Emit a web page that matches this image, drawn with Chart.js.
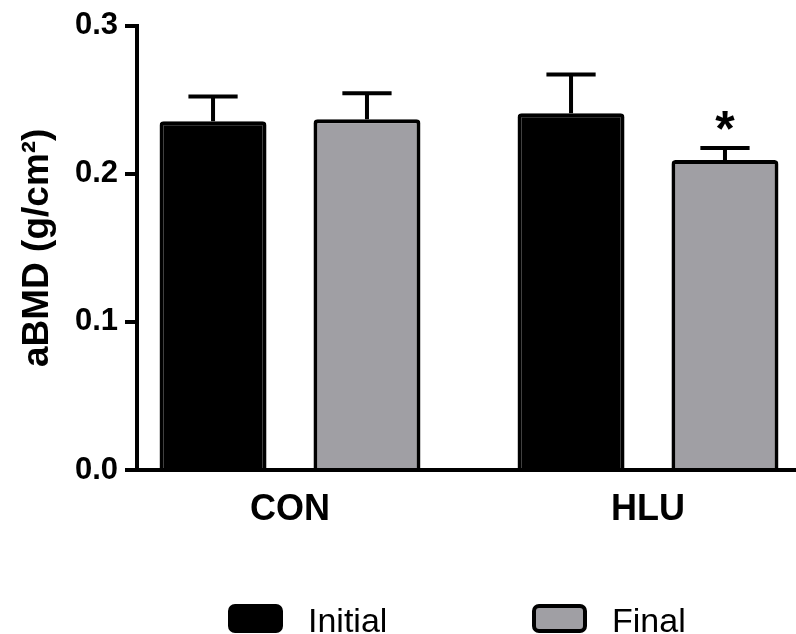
<!DOCTYPE html>
<html>
<head>
<meta charset="utf-8">
<script src="https://cdn.jsdelivr.net/npm/chart.js@4/dist/chart.umd.min.js"></script>
<style>
  body { margin: 0; background: #fff; }
  #wrap { width: 796px; height: 634px; position: relative; }
</style>
</head>
<body>
<div id="wrap"><canvas id="bmd-chart"></canvas></div>
<script>
// group labels and series values
const categories = ['CON', 'HLU'];
const seriesNames = ['Initial', 'Final'];
const initialMeans = [0.2354, 0.2408];
const initialErrors = [0.0168, 0.0262];
const finalMeans = [0.2368, 0.2092];
const finalErrors = [0.0175, 0.0081];
const finalMarks = ['', '*'];

const FONT = '"Liberation Sans", Arial, Helvetica, sans-serif';
const GREY = '#a09fa4';

// SEM whiskers + significance stars on top of each bar
const errorBars = {
    id: 'errorBars',
    afterDatasetsDraw(chart) {
        const { ctx, scales: { y } } = chart;
        ctx.save();
        ctx.strokeStyle = '#000';
        ctx.fillStyle = '#000';
        ctx.lineWidth = 4;
        chart.data.datasets.forEach((ds, di) => {
            chart.getDatasetMeta(di).data.forEach((bar, i) => {
                const top = y.getPixelForValue(ds.means[i] + ds.errors[i]);
                const half = bar.width * 0.23;
                ctx.beginPath();
                ctx.moveTo(bar.x, bar.y);
                ctx.lineTo(bar.x, top);
                ctx.moveTo(bar.x - half, top);
                ctx.lineTo(bar.x + half, top);
                ctx.stroke();
                if (ds.marks && ds.marks[i]) {
                    ctx.font = 'bold 50px ' + FONT;
                    ctx.textAlign = 'center';
                    ctx.textBaseline = 'alphabetic';
                    ctx.fillText(ds.marks[i], bar.x, top - 2);
                }
            });
        });
        ctx.restore();
    }
};

// legend along the bottom, spaced like the original figure
const bottomLegend = {
    id: 'bottomLegend',
    afterDraw(chart) {
        const { ctx } = chart;
        const slots = [228, 532];
        ctx.save();
        ctx.font = '34px ' + FONT;
        ctx.textBaseline = 'alphabetic';
        ctx.textAlign = 'left';
        chart.data.datasets.forEach((ds, i) => {
            const x = slots[i];
            ctx.beginPath();
            ctx.roundRect(x + 2, 606, 51, 25, 5);
            ctx.fillStyle = ds.backgroundColor;
            ctx.fill();
            ctx.lineWidth = 4;
            ctx.strokeStyle = '#000';
            ctx.stroke();
            ctx.fillStyle = '#000';
            ctx.fillText(ds.label, x + 80, 632);
        });
        ctx.restore();
    }
};

const toPoints = vals => vals.map((v, i) => ({ x: i + 1, y: v }));

const ctx = document.getElementById('bmd-chart').getContext('2d');
new Chart(ctx, {
    type: 'bar',
    data: {
        datasets: [
            {
                label: seriesNames[0],
                data: toPoints(initialMeans),
                means: initialMeans,
                errors: initialErrors,
                backgroundColor: '#000',
                borderColor: '#000',
                borderWidth: 4,
                borderRadius: 4,
                categoryPercentage: 0.86,
                barPercentage: 0.695,
            },
            {
                label: seriesNames[1],
                data: toPoints(finalMeans),
                means: finalMeans,
                errors: finalErrors,
                marks: finalMarks,
                backgroundColor: GREY,
                borderColor: '#000',
                borderWidth: 4,
                borderRadius: 4,
                categoryPercentage: 0.86,
                barPercentage: 0.695,
            },
        ],
    },
    options: {
        responsive: true,
        maintainAspectRatio: false,
        animation: false,
        layout: { padding: { top: 24, left: 0, right: 0, bottom: 0 } },
        plugins: {
            legend: { display: false },
            tooltip: { enabled: false },
        },
        scales: {
            x: {
                // linear index axis so the groups can sit where the original put them
                type: 'linear',
                offset: false,
                min: 0.5726,
                max: 2.4134,
                afterFit: s => { s.height = 164; },
                grid: { display: false, drawTicks: false, offset: false },
                border: { display: true, color: '#000', width: 4 },
                ticks: {
                    stepSize: 1,
                    includeBounds: false,
                    padding: 18,
                    color: '#000',
                    font: { family: FONT, size: 36, weight: 'bold' },
                    callback: v => categories[v - 1] ?? '',
                },
            },
            y: {
                min: 0,
                max: 0.3,
                afterFit: s => { s.width = 137; },
                grid: {
                    drawOnChartArea: false,
                    drawTicks: true,
                    tickLength: 12,
                    lineWidth: 4,
                    color: '#000',
                },
                border: { display: true, color: '#000', width: 4 },
                ticks: {
                    stepSize: 0.1,
                    padding: 7,
                    color: '#000',
                    font: { family: FONT, size: 31, weight: 'bold' },
                    callback: v => v.toFixed(1),
                },
                title: {
                    display: true,
                    text: 'aBMD (g/cm²)',
                    color: '#000',
                    padding: { top: 16, bottom: 0 },
                    font: { family: FONT, size: 37, weight: 'bold' },
                },
            },
        },
    },
    plugins: [errorBars, bottomLegend],
});
</script>
</body>
</html>
